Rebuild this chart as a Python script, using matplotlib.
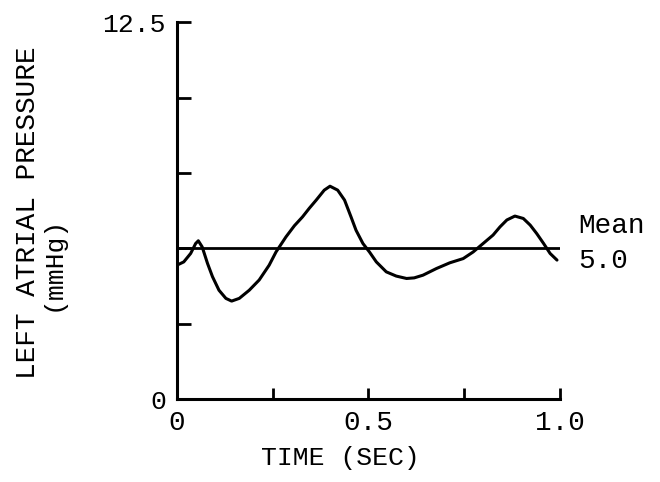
import matplotlib
matplotlib.use("Agg")
import matplotlib.pyplot as plt

plt.rcParams['font.family'] = ['Liberation Mono', 'DejaVu Sans Mono']

# pressure trace
time_sec = [0.0, 0.018, 0.036, 0.049, 0.056, 0.066, 0.080, 0.093, 0.110, 0.128,
            0.143, 0.163, 0.189, 0.215, 0.241, 0.259, 0.285, 0.307, 0.328, 0.346,
            0.364, 0.385, 0.400, 0.420, 0.438, 0.455, 0.468, 0.486, 0.503, 0.521,
            0.547, 0.573, 0.600, 0.620, 0.643, 0.678, 0.713, 0.748, 0.774, 0.800,
            0.826, 0.844, 0.862, 0.883, 0.905, 0.923, 0.940, 0.958, 0.975, 0.993]
pressure = [4.44, 4.55, 4.83, 5.16, 5.25, 5.05, 4.50, 4.06, 3.61, 3.34,
            3.25, 3.34, 3.61, 3.95, 4.44, 4.88, 5.38, 5.75, 6.04, 6.33,
            6.60, 6.93, 7.06, 6.93, 6.60, 6.04, 5.60, 5.16, 4.88, 4.55,
            4.22, 4.08, 4.00, 4.02, 4.11, 4.33, 4.52, 4.66, 4.88, 5.16,
            5.44, 5.71, 5.94, 6.07, 5.99, 5.77, 5.49, 5.16, 4.83, 4.61]
mean_p = 5.0

x_ticks = [0, 0.25, 0.5, 0.75, 1.0]
x_labels = ['0', '', '0.5', '', '1.0']
y_ticks = [0, 2.5, 5, 7.5, 10, 12.5]
y_labels = ['0', '', '', '', '', '12.5']

fig = plt.figure(figsize=(6.6, 4.82), dpi=100)
ax = fig.add_axes([0.268, 0.172, 0.58, 0.782])

ax.plot(time_sec, pressure, color='black', lw=2.2,
        solid_joinstyle='round', solid_capstyle='round')
ax.plot([0, 1.0], [mean_p, mean_p], color='black', lw=2.0)

ax.set_xlim(0, 1.0)
ax.set_ylim(0, 12.5)
for s in ['top', 'right']:
    ax.spines[s].set_visible(False)
for s in ['left', 'bottom']:
    ax.spines[s].set_linewidth(2.2)

ax.set_xticks(x_ticks)
ax.set_xticklabels(x_labels)
ax.set_yticks(y_ticks)
ax.set_yticklabels(y_labels)
ax.tick_params(axis='y', direction='in', length=10, width=2, pad=8, labelsize=19)
ax.tick_params(axis='x', direction='in', length=8, width=2, pad=8, labelsize=20)

ax.text(1.048, 5.74, 'Mean', fontsize=20, va='center', ha='left')
ax.text(1.048, 4.58, '5.0', fontsize=20, va='center', ha='left')

fig.text(340 / 660, 1 - 458 / 482, 'TIME (SEC)', fontsize=19, ha='center', va='center')
fig.text(28 / 660, 1 - 213 / 482, 'LEFT ATRIAL PRESSURE', fontsize=20,
         rotation=90, ha='center', va='center')
fig.text(53 / 660, 1 - 263 / 482, '(mmHg)', fontsize=19,
         rotation=90, ha='center', va='center')

fig.savefig('out.png', dpi=100)
